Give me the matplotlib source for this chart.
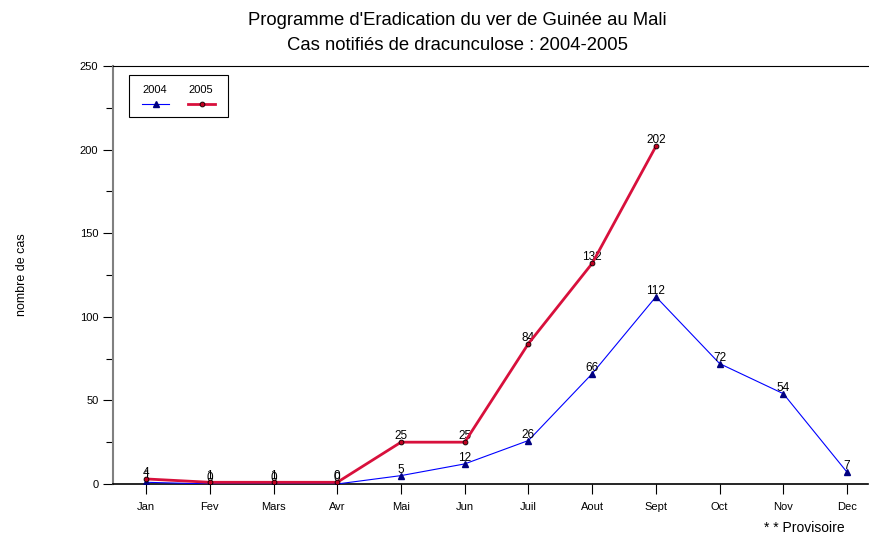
import matplotlib.pyplot as plt
from matplotlib.patches import Rectangle
from matplotlib.lines import Line2D

plt.rcParams['font.family'] = ['Liberation Sans', 'DejaVu Sans']

months = ["Jan", "Fev", "Mars", "Avr", "Mai", "Jun", "Juil", "Aout", "Sept", "Oct", "Nov", "Dec"]
cas_2004 = [1, 0, 0, 0, 5, 12, 26, 66, 112, 72, 54, 7]
cas_2005 = [3, 1, 1, 1, 25, 25, 84, 132, 202]
lab_2005 = ["4", "1", "1", "0", "25", "25", "84", "132", "202"]

fig = plt.figure(figsize=(8.69, 5.33), dpi=100)
ax = fig.add_axes([0.130, 0.092, 0.869, 0.784])

x04 = list(range(len(cas_2004)))
x05 = list(range(len(cas_2005)))
ax.plot(x04, cas_2004, color="#0000ff", lw=0.8, marker="^", ms=4,
        mfc="#000080", mec="#000080", zorder=3)
ax.plot(x05, cas_2005, color="#d8103c", lw=2,
        marker="o", ms=3.5, mfc="#c00020", mec="black", mew=0.6, zorder=4)

for x, v in zip(x04, cas_2004):
    ax.text(x, v, str(v), ha="center", va="bottom", fontsize=8.5)
for x, v, s in zip(x05, cas_2005, lab_2005):
    ax.text(x, v, s, ha="center", va="bottom", fontsize=8.5)

ax.set_xlim(-0.52, 11.33)
ax.set_ylim(0, 250)
ax.set_xticks(x04)
ax.set_xticklabels(months, fontsize=8)
ax.set_yticks(range(0, 251, 50))
ax.set_yticks(range(25, 250, 50), minor=True)
ax.tick_params(axis="y", labelsize=8, length=7, width=0.8, direction="out")
ax.tick_params(axis="y", which="minor", length=5, width=0.8)
ax.tick_params(axis="x", length=7, width=0.8, direction="out", pad=6)

ax.spines["right"].set_visible(False)
ax.spines["left"].set_color("#808080")
ax.spines["left"].set_linewidth(1.5)
ax.spines["top"].set_linewidth(0.8)
ax.spines["bottom"].set_linewidth(1.2)

ax.set_ylabel("nombre de cas", fontsize=9, labelpad=37)

fig.text(0.526, 0.962, "Programme d'Eradication du ver de Guinée au Mali",
         ha="center", va="center", fontsize=13.3)
fig.text(0.526, 0.915, "Cas notifiés de dracunculose : 2004-2005",
         ha="center", va="center", fontsize=13.3)
fig.text(0.926, 0.010, "* * Provisoire", ha="center", va="center", fontsize=10)

# legend box drawn by hand (text above each line sample)
fig.patches.append(Rectangle((129 / 869, 1 - 117 / 533), 99 / 869, 42 / 533,
                             transform=fig.transFigure, fill=False,
                             edgecolor="black", lw=0.8))
fig.text(155 / 869, 1 - 90 / 533, "2004", ha="center", va="center", fontsize=8)
fig.text(201 / 869, 1 - 90 / 533, "2005", ha="center", va="center", fontsize=8)
fig.lines.append(Line2D([142 / 869, 169 / 869], [1 - 104 / 533] * 2,
                        transform=fig.transFigure, color="#0000ff", lw=0.8))
fig.lines.append(Line2D([155.5 / 869], [1 - 104 / 533], transform=fig.transFigure,
                        ls="none", marker="^", ms=4, mfc="#000080", mec="#000080"))
fig.lines.append(Line2D([188 / 869, 215 / 869], [1 - 104 / 533] * 2,
                        transform=fig.transFigure, color="#d8103c", lw=2))
fig.lines.append(Line2D([201.5 / 869], [1 - 104 / 533], transform=fig.transFigure,
                        ls="none", marker="o", ms=3.5, mfc="#c00020", mec="black", mew=0.6))

fig.savefig("out.png", dpi=100)
